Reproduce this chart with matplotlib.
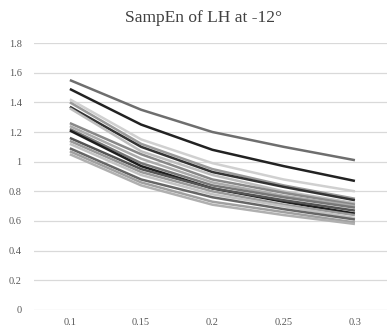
import numpy as np
import matplotlib.pyplot as plt

# sample entropy of LH at -12 deg, one series per subject
r_labels = ['0.1', '0.15', '0.2', '0.25', '0.3']
series = [
    [1.55, 1.35, 1.20, 1.10, 1.01],
    [1.49, 1.25, 1.08, 0.97, 0.87],
    [1.42, 1.15, 0.99, 0.88, 0.80],
    [1.40, 1.12, 0.95, 0.84, 0.75],
    [1.37, 1.10, 0.93, 0.83, 0.74],
    [1.36, 1.07, 0.91, 0.80, 0.72],
    [1.26, 1.05, 0.88, 0.79, 0.71],
    [1.24, 1.02, 0.86, 0.77, 0.70],
    [1.22, 0.99, 0.84, 0.76, 0.69],
    [1.21, 0.97, 0.82, 0.73, 0.65],
    [1.16, 0.95, 0.82, 0.74, 0.67],
    [1.14, 0.93, 0.80, 0.71, 0.64],
    [1.12, 0.91, 0.78, 0.70, 0.62],
    [1.09, 0.88, 0.76, 0.68, 0.61],
    [1.07, 0.86, 0.73, 0.66, 0.59],
    [1.05, 0.84, 0.71, 0.64, 0.58],
]
colors = ['#6e6e6e', '#222222', '#d0d0d0', '#9a9a9a', '#333333', '#bdbdbd',
          '#888888', '#ababab', '#777777', '#1e1e1e', '#555555', '#999999',
          '#c2c2c2', '#666666', '#a0a0a0', '#b0b0b0']

plt.rcParams['font.family'] = ['Liberation Serif', 'DejaVu Serif']

fig = plt.figure(figsize=(3.87, 3.36), dpi=100)
ax = fig.add_axes([0.0885, 0.0774, 0.9115, 0.7946])
x = np.arange(len(r_labels))
for s, c in zip(series, colors):
    ax.plot(x, s, color=c, lw=1.8, solid_capstyle='butt')

ax.set_xlim(-0.5, 4.45)
ax.set_ylim(0, 1.8)
ax.set_yticks(np.arange(0, 1.81, 0.2))
ax.set_yticklabels(['0', '0.2', '0.4', '0.6', '0.8', '1', '1.2', '1.4', '1.6', '1.8'])
ax.set_xticks(x)
ax.set_xticklabels(r_labels)
ax.tick_params(length=0, labelsize=7.5, colors='#595959')
ax.tick_params(axis='x', pad=6)
ax.tick_params(axis='y', pad=9)
ax.grid(axis='y', color='#d9d9d9', lw=0.9)
ax.set_axisbelow(True)
for sp in ax.spines.values():
    sp.set_visible(False)

fig.text(0.525, 0.946, 'SampEn of LH at -12°', ha='center', va='center',
         fontsize=12.5, color='#404040')

fig.savefig('out.png', dpi=100)
